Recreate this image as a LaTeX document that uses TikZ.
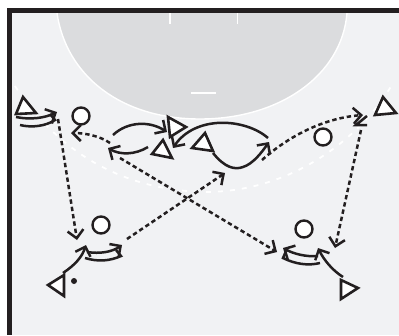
\documentclass[tikz,border=0pt]{standalone}
\usetikzlibrary{arrows.meta}
\definecolor{court}{HTML}{F1F2F4}
\definecolor{paint}{HTML}{DBDCDE}
\definecolor{ink}{HTML}{231F20}
\tikzset{
  x=1pt,y=-1pt,
  cone/.style={draw=ink,fill=white,line width=2.6pt,miter limit=4},
  player/.style={circle,draw=ink,fill=white,line width=2.4pt,minimum size=17pt,inner sep=0pt},
  run/.style={draw=ink,line width=2.5pt,-{Straight Barb[length=8pt,width=16pt,line width=2.5pt]}},
  plain/.style={draw=ink,line width=2.5pt},
  pass/.style={draw=ink,line width=2.5pt,dash pattern=on 4.4pt off 3pt,-{Straight Barb[length=8pt,width=16pt,line width=2.5pt]}},
  courtline/.style={draw=white,line width=1.8pt},
  arcdash/.style={draw=white,line width=1.8pt,dash pattern=on 5pt off 7pt},
}
\begin{document}
\begin{tikzpicture}
\useasboundingbox (0,0) rectangle (399,335);
\fill[white] (0,0) rectangle (399,335);
\fill[court] (12,13) rectangle (399,335);
\filldraw[fill=paint,draw=white,line width=1.4pt] (57,13) .. controls (66,75) and (120,119) .. (200,119) .. controls (280,119) and (342,75) .. (347,13);
\draw[courtline] (170,13) -- (170,24);
\draw[courtline] (237.5,13) -- (237.5,24);
\draw[courtline] (191,93) -- (216,93);
\draw[arcdash] (15,86) .. controls (50,140) and (110,190) .. (205,192) .. controls (290,192) and (360,140) .. (393,83);
\fill[ink] (7,8) rectangle (399,13);
\fill[ink] (7,8) rectangle (12,335);
% cones
\draw[cone] (23,97) -- (36,113) -- (16,114) -- cycle;
\draw[cone] (168,117) -- (186,127) -- (170,137) -- cycle;
\draw[cone] (163,140) -- (172,158) -- (152,154) -- cycle;
\draw[cone] (205,133) -- (213,151) -- (192,148) -- cycle;
\draw[cone] (383,97) -- (396,113) -- (375,115) -- cycle;
\draw[cone] (48,285) -- (64,275) -- (64,296) -- cycle;
\draw[cone] (358,288) -- (341,280) -- (341,299) -- cycle;
% players
\node[player] (p1) at (81,116) {};
\node[player] (p2) at (323,137) {};
\node[player] (p3) at (101,225) {};
\node[player] (p4) at (304,229) {};
\fill[ink] (74,281) circle (3);
% left cone hand-off
\draw[run] (16,117) .. controls (30,120) and (45,118) .. (57,112);
\draw[plain] (20,125) .. controls (32,128) and (46,126) .. (55,120) -- (50,114);
% passes
\draw[pass] (58,119) -- (77,240);
\draw[pass] (110,143) .. controls (100,136) and (85,133) .. (71,133);
\draw[pass] (120,158) -- (277,252);
\draw[pass] (262,160) .. controls (290,135) and (325,118) .. (363,115);
\draw[pass] (361,130) -- (335,248);
\draw[plain] (367,116) -- (356,125) -- (367,125);
\draw[pass] (127,239) -- (225,173);
% solid runs
\draw[run] (113,135) .. controls (128,121) and (150,121) .. (167,132);
\draw[run] (148,147) .. controls (135,155) and (120,155) .. (108,148);
\draw[run] (268,138) .. controls (245,118) and (195,115) .. (173,148);
\draw[run] (213,153) .. controls (225,168) and (235,170) .. (243,167) .. controls (253,164) and (262,152) .. (269,142);
% bottom left
\draw[run] (63,273) .. controls (75,265) and (82,257) .. (86,245);
\draw[run] (87,252) .. controls (100,254) and (112,252) .. (122,245);
\draw[plain] (85,258) .. controls (98,262) and (110,261) .. (121,256) -- (116,250);
% bottom right
\draw[run] (343,277) .. controls (332,270) and (324,260) .. (318,248);
\draw[run] (318,256) .. controls (306,257) and (294,254) .. (283,248);
\draw[plain] (320,263) .. controls (308,266) and (295,264) .. (283,258) -- (286,251);
\end{tikzpicture}
\end{document}
